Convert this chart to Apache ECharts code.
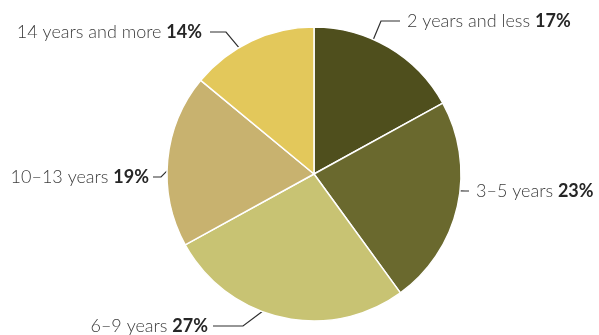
<!DOCTYPE html>
<html>
<head>
<meta charset="utf-8">
<script src="https://cdn.jsdelivr.net/npm/echarts@6/dist/echarts.min.js"></script>
<style>
  html, body { margin: 0; padding: 0; background: #fff; }
  #chart { width: 599px; height: 335px; }
</style>
</head>
<body>
<div id="chart"></div>
<script>
// Length of service shares
const categories = ['2 years and less', '3–5 years', '6–9 years', '10–13 years', '14 years and more'];
const shares = [17, 23, 27, 19, 14];
const colors = ['#4f4f1d', '#6a692e', '#c8c373', '#c8b26f', '#e3c85b'];

// Pie geometry (pixels)
const CX = 314, CY = 174, R = 147;

// Label placement: anchor angle on the rim (deg clockwise from top),
// elbow and end of the leader line, text anchor and alignment.
const labelPlacement = [
  { angle: 23.8,  elbow: [381, 21],  end: [400, 21],  text: [407, 21],  align: 'left'  },
  { angle: 96.6,  elbow: [465, 191], end: [469, 191], text: [476, 191], align: 'left'  },
  { angle: 200.6, elbow: [243, 326], end: [213, 326], text: [208, 326], align: 'right' },
  { angle: 271.2, elbow: [161, 177], end: [153, 177], text: [149, 177], align: 'right' },
  { angle: 329.3, elbow: [226, 32],  end: [210, 32],  text: [202, 32],  align: 'right' }
];

function rimPoint(deg) {
  const a = deg * Math.PI / 180;
  return [CX + R * Math.sin(a), CY - R * Math.cos(a)];
}

const chart = echarts.init(document.getElementById('chart'), null, { renderer: 'canvas' });

chart.setOption({
  animation: false,
  backgroundColor: '#ffffff',
  series: [{
    type: 'pie',
    center: [CX, CY],
    radius: R,
    startAngle: 90,
    clockwise: true,
    data: categories.map((name, i) => ({
      name: name,
      value: shares[i],
      itemStyle: { color: colors[i] }
    })),
    itemStyle: { borderColor: '#ffffff', borderWidth: 1.5 },
    label: {
      show: true,
      overflow: 'none',
      formatter: p => '{n|' + p.name + ' }{b|' + p.value + '%}',
      rich: {
        n: { fontFamily: 'Lato', fontWeight: 300, fontSize: 18, color: '#3c3c3c' },
        b: { fontFamily: 'Lato', fontWeight: 'bold', fontSize: 18, color: '#262626' }
      }
    },
    labelLine: {
      show: true,
      lineStyle: { color: '#2f2f2f', width: 1.2 }
    },
    labelLayout: params => {
      const L = labelPlacement[params.dataIndex];
      return {
        x: L.text[0],
        y: L.text[1],
        align: L.align,
        verticalAlign: 'middle',
        moveOverlap: false,
        labelLinePoints: [rimPoint(L.angle), L.elbow, L.end]
      };
    }
  }]
});
</script>
</body>
</html>
